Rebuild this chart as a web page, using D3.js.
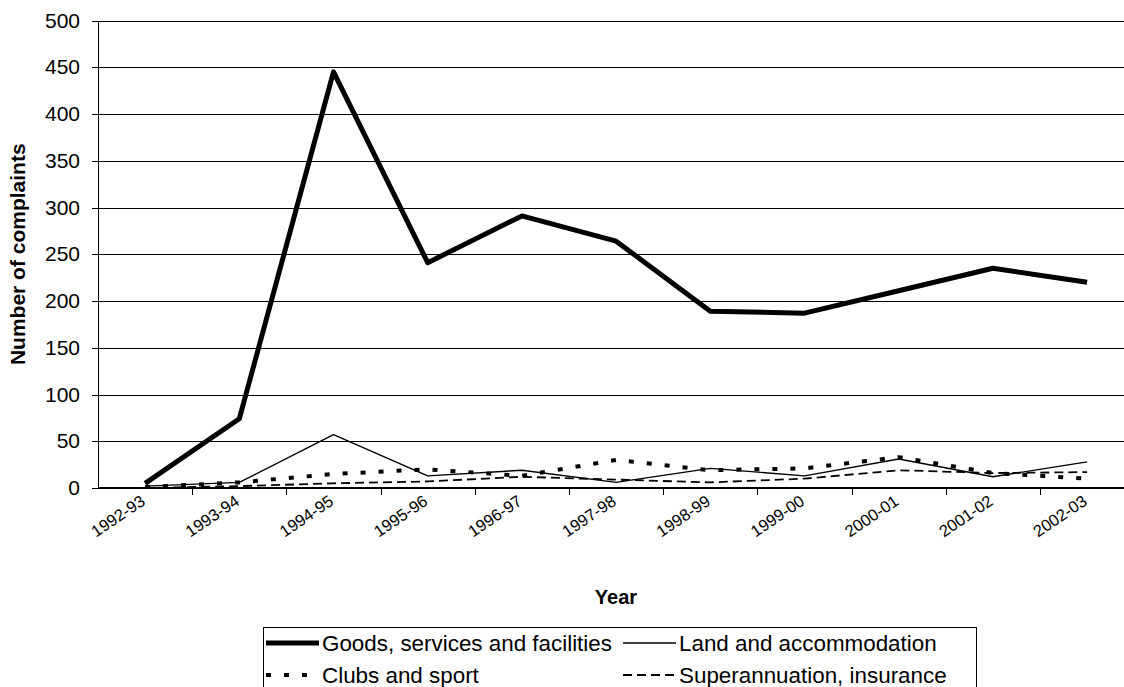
<!DOCTYPE html>
<html lang="en">
<head>
<meta charset="utf-8">
<script src="https://cdn.jsdelivr.net/npm/d3@7"></script>
<title>Number of complaints by year</title>
<style>
  body { margin: 0; background: #fff; }
  svg { font-family: Arial, "Liberation Sans", sans-serif; }
  .grid line { stroke: #000; stroke-width: 1; shape-rendering: crispEdges; }
  .axis path, .axis line { stroke: #000; shape-rendering: crispEdges; }
  .axis text { fill: #000; }
</style>
</head>
<body>
<div id="chart"></div>
<script>
// data
var years = ["1992-93", "1993-94", "1994-95", "1995-96", "1996-97", "1997-98",
             "1998-99", "1999-00", "2000-01", "2001-02", "2002-03"];
var goods = [5, 74, 445, 241, 291, 264, 189, 187, 211, 235, 220];
var land  = [2, 6, 57, 13, 19, 6, 21, 13, 31, 12, 28];
var clubs = [1, 6, 15, 20, 13, 30, 19, 21, 33, 16, 10];
var superann = [0, 2, 5, 7, 12, 9, 6, 10, 19, 16, 17];
var yTicks = [0, 50, 100, 150, 200, 250, 300, 350, 400, 450, 500];

var series = [
  {name: "Goods, services and facilities", values: goods, width: 5, dash: null},
  {name: "Land and accommodation", values: land, width: 1.4, dash: null},
  {name: "Clubs and sport", values: clubs, width: 4, dash: "5,13"},
  {name: "Superannuation, insurance", values: superann, width: 1.8, dash: "9,5"}
];

var width = 1124, height = 687;
var plotLeft = 98, plotTop = 20.5, plotBottom = 488;

var svg = d3.select("#chart").append("svg")
    .attr("width", width)
    .attr("height", height);

// plot area runs past the right edge of the picture, like the reference
var x = d3.scaleBand().domain(years).range([plotLeft, plotLeft + 11 * 94.2]);
var y = d3.scaleLinear().domain([0, 500]).range([plotBottom, plotTop]);

// gridlines
svg.append("g").attr("class", "grid")
  .selectAll("line")
  .data(yTicks)
  .enter().append("line")
  .attr("x1", plotLeft).attr("x2", width)
  .attr("y1", function(d) { return Math.round(y(d)) + 0.5; })
  .attr("y2", function(d) { return Math.round(y(d)) + 0.5; });

// y axis
var yAxis = svg.append("g").attr("class", "axis")
  .attr("transform", "translate(" + plotLeft + ",0)")
  .call(d3.axisLeft(y).tickValues(yTicks).tickSize(6).tickSizeOuter(0));
yAxis.selectAll("text").style("font-size", "21px").attr("x", -18);
yAxis.select(".domain").attr("stroke-width", 1.5);

// x axis
var xAxis = svg.append("g").attr("class", "axis")
  .attr("transform", "translate(0," + plotBottom + ")");
xAxis.append("line")
  .attr("x1", plotLeft).attr("x2", width)
  .attr("stroke-width", 1.5);
xAxis.selectAll(".xtick")
  .data(years.slice(1))
  .enter().append("line")
  .attr("class", "xtick")
  .attr("x1", function(d) { return Math.round(x(d)) + 0.5; })
  .attr("x2", function(d) { return Math.round(x(d)) + 0.5; })
  .attr("y1", 0).attr("y2", 7);
xAxis.selectAll(".xlabel")
  .data(years)
  .enter().append("text")
  .attr("class", "xlabel")
  .attr("text-anchor", "end")
  .attr("transform", function(d) {
    return "translate(" + (x(d) + x.bandwidth() / 2 - 2) + ",11) rotate(-34)";
  })
  .attr("dy", "0.35em")
  .style("font-size", "16.5px")
  .text(function(d) { return d; });

// axis titles
svg.append("text")
  .attr("transform", "translate(25," + ((plotTop + plotBottom) / 2) + ") rotate(-90)")
  .attr("text-anchor", "middle")
  .style("font-size", "21px")
  .style("font-weight", "bold")
  .text("Number of complaints");

svg.append("text")
  .attr("x", 616).attr("y", 604)
  .attr("text-anchor", "middle")
  .style("font-size", "20px")
  .style("font-weight", "bold")
  .text("Year");

// lines
var line = d3.line()
  .x(function(d, i) { return x(years[i]) + x.bandwidth() / 2; })
  .y(function(d) { return y(d); });

svg.selectAll(".series")
  .data(series)
  .enter().append("path")
  .attr("class", "series")
  .attr("fill", "none")
  .attr("stroke", "#000")
  .attr("stroke-width", function(d) { return d.width; })
  .attr("stroke-dasharray", function(d) { return d.dash; })
  .attr("stroke-linejoin", "round")
  .attr("d", function(d) { return line(d.values); });

// legend
var legend = svg.append("g").attr("transform", "translate(263,627)");
legend.append("rect")
  .attr("x", 0.5).attr("y", 0.5)
  .attr("width", 713).attr("height", 70)
  .attr("fill", "none").attr("stroke", "#000");

var item = legend.selectAll(".item")
  .data(series)
  .enter().append("g")
  .attr("class", "item")
  .attr("transform", function(d, i) {
    return "translate(" + (i % 2 ? 360 : 3) + "," + (i < 2 ? 16 : 48) + ")";
  });
item.append("line")
  .attr("x1", 0).attr("x2", 53)
  .attr("stroke", "#000")
  .attr("stroke-width", function(d) { return d.width; })
  .attr("stroke-dasharray", function(d) { return d.dash; });
item.append("text")
  .attr("x", 56).attr("dy", "0.35em")
  .style("font-size", "22.4px")
  .text(function(d) { return d.name; });
</script>
</body>
</html>
